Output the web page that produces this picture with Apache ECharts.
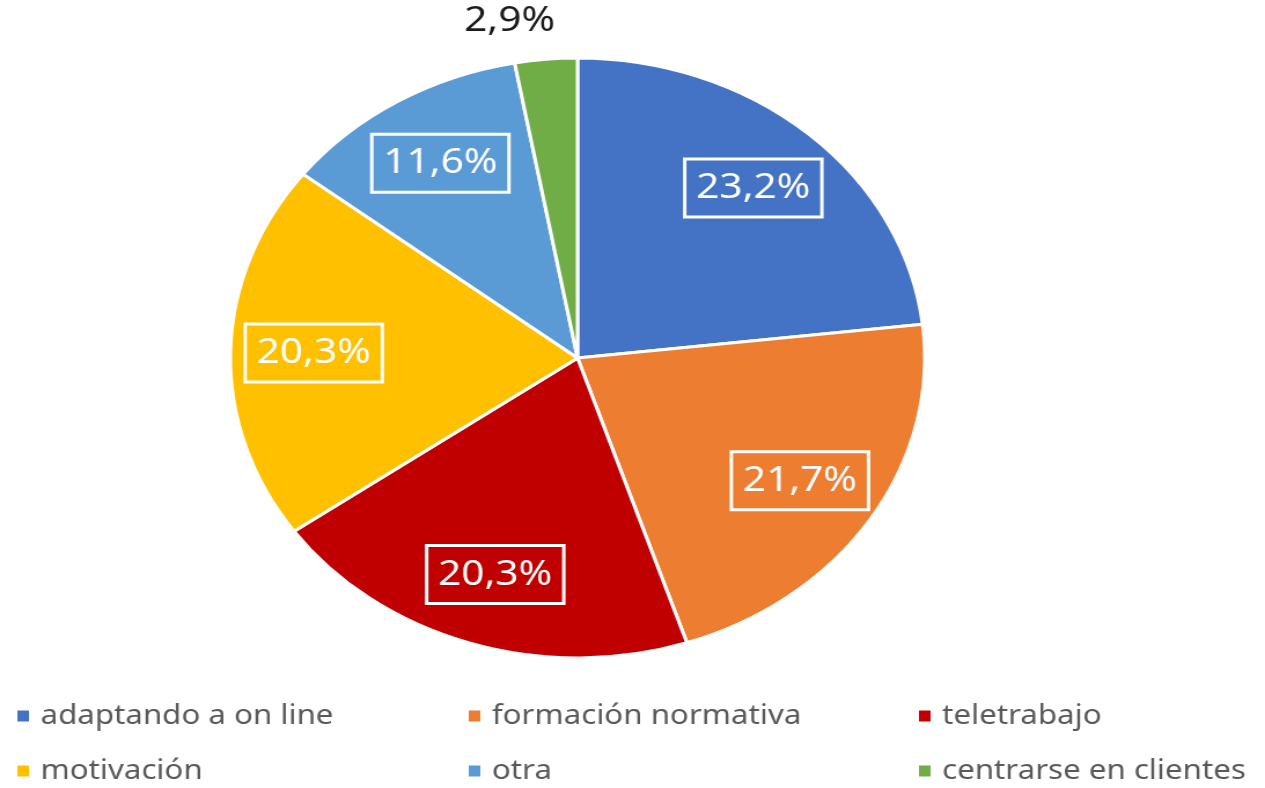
<!DOCTYPE html>
<html>
<head>
<meta charset="utf-8">
<script src="https://cdn.jsdelivr.net/npm/echarts@6/dist/echarts.min.js"></script>
<style>
  html, body { margin: 0; padding: 0; background: #fff; overflow: hidden; }
  /* the original picture is stretched sideways, so draw narrow and scale */
  #main { width: 1093px; height: 788px; transform: scaleX(1.1574); transform-origin: 0 0; }
</style>
</head>
<body>
<div id="main"></div>
<script>
var categories = ['adaptando a on line', 'formación normativa', 'teletrabajo', 'motivación', 'otra', 'centrarse en clientes'];
var values = [23.2, 21.7, 20.3, 20.3, 11.6, 2.9];
var colors = ['#4472C4', '#ED7D31', '#C00000', '#FFC000', '#5B9BD5', '#70AD47'];

var chart = echarts.init(document.getElementById('main'));

var center = [499, 358];
var font = 'Noto Sans';

// legend is 3 columns x 2 rows, one legend box per entry
var legendCols = [13, 403, 792];
var legendRows = [701, 756];

var legends = categories.map(function (c, i) {
    return {
        left: legendCols[i % 3],
        top: legendRows[Math.floor(i / 3)],
        padding: 0,
        itemWidth: 12,
        itemHeight: 13,
        icon: 'rect',
        selectedMode: false,
        data: [c],
        textStyle: {
            fontFamily: font,
            fontSize: 27,
            lineHeight: 30,
            color: '#595959',
            padding: [0, 0, 0, 4]
        }
    };
});

var option = {
    backgroundColor: '#fff',
    animation: false,
    legend: legends,
    series: [
        {
            type: 'pie',
            center: center,
            radius: [0, 300],
            startAngle: 90,
            silent: true,
            label: { show: false },
            labelLine: { show: false },
            itemStyle: { borderColor: '#fff', borderWidth: 3 },
            data: categories.map(function (c, i) {
                return { name: c, value: values[i], itemStyle: { color: colors[i] } };
            })
        },
        {
            // invisible ring, only used to put the value labels further out
            type: 'pie',
            center: center,
            radius: [150, 300],
            startAngle: 90,
            silent: true,
            avoidLabelOverlap: false,
            itemStyle: { color: 'rgba(0,0,0,0)' },
            label: {
                show: true,
                position: 'inside',
                fontFamily: font,
                fontSize: 35,
                lineHeight: 44,
                color: '#fff',
                borderColor: '#fff',
                borderWidth: 3,
                padding: [9, 10, 5, 10],
                formatter: function (p) {
                    return p.value.toFixed(1).replace('.', ',') + '%';
                }
            },
            labelLayout: function (p) {
                if (p.dataIndex === 5) return { dx: -38, dy: -110 };
            },
            data: values.map(function (v, i) {
                if (i === 5) {
                    return { value: v, label: { color: '#1a1a1a', borderWidth: 0 } };
                }
                return { value: v };
            })
        }
    ]
};

chart.setOption(option);
</script>
</body>
</html>
